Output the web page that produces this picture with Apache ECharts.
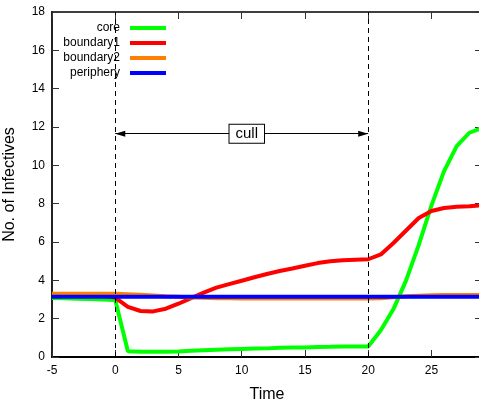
<!DOCTYPE html>
<html><head><meta charset="utf-8">
<script src="https://cdn.jsdelivr.net/npm/echarts@6/dist/echarts.min.js"></script>
<style>html,body{margin:0;padding:0;background:#fff}#c{width:479px;height:406px}</style>
</head><body><div id="c"></div>
<script>
const time = [-5,-4,-3,-2,-1,0,1,2,3,4,5,6,7,8,9,10,11,12,13,14,15,16,17,18,19,20,21,22,23,24,25,26,27,28,29];
const core = [3.08,3.06,3.04,3.02,3.0,2.98,0.3,0.28,0.27,0.27,0.29,0.32,0.35,0.38,0.40,0.42,0.44,0.45,0.48,0.50,0.50,0.52,0.53,0.55,0.55,0.55,1.4,2.5,4.0,5.85,7.9,9.7,11.0,11.7,11.95];
const boundary1 = [3.2,3.2,3.2,3.2,3.2,3.1,2.62,2.4,2.38,2.52,2.78,3.07,3.36,3.62,3.8,3.98,4.16,4.33,4.49,4.62,4.76,4.9,5.0,5.05,5.08,5.1,5.35,5.95,6.6,7.25,7.62,7.77,7.84,7.86,7.92];
const boundary2 = [3.3,3.3,3.3,3.3,3.3,3.3,3.28,3.25,3.21,3.17,3.14,3.11,3.09,3.07,3.06,3.05,3.05,3.05,3.05,3.05,3.05,3.05,3.05,3.05,3.05,3.05,3.07,3.12,3.17,3.2,3.22,3.24,3.24,3.24,3.24];
const periphery = [3.15,3.15,3.15,3.14,3.14,3.14,3.14,3.14,3.14,3.14,3.14,3.14,3.14,3.14,3.14,3.14,3.14,3.14,3.14,3.14,3.14,3.14,3.14,3.14,3.14,3.14,3.14,3.14,3.14,3.14,3.14,3.14,3.14,3.14,3.14];
const seriesNames = ['core','boundary1','boundary2','periphery'];
const seriesColors = ['#00ff00','#ff0000','#ff8000','#0000ff'];
const seriesData = [core, boundary1, boundary2, periphery];
const xTicks = [-5,0,5,10,15,20,25];
const yTicks = [0,2,4,6,8,10,12,14,16,18];
const cullStart = 0, cullEnd = 20, arrowY = 11.65, cullLabel = 'cull';

const FONT = 'Liberation Sans';
const chart = echarts.init(document.getElementById('c'), null, {renderer:'canvas'});
const axisLine = {show:true, onZero:false, lineStyle:{color:'#000', width:1.5}};
const axisTick = {show:true, inside:true, length:7, lineStyle:{color:'#333', width:1}};
const option = {
  animation:false,
  backgroundColor:'#fff',
  grid:{left:52, right:-3, top:12, bottom:49, containLabel:false, outerBoundsMode:'none'},
  legend: seriesNames.map((n,i)=>({
    data:[n], orient:'vertical', align:'right', right:313, top:22+15*i, padding:0,
    icon:'rect', itemWidth:36, itemHeight:4, itemGap:0, selectedMode:false,
    textStyle:{fontFamily:FONT, fontSize:12, color:'#000', padding:[0,5,0,0]}
  })),
  xAxis:[
    {type:'value', min:-5, max:29, interval:5, position:'bottom',
     name:'Time', nameLocation:'middle', nameGap:30,
     nameTextStyle:{fontFamily:FONT, fontSize:16, color:'#000'},
     axisLine:Object.assign({}, axisLine, {lineStyle:{color:'#000', width:2}}), axisTick:axisTick,
     axisLabel:{fontFamily:FONT, fontSize:12, color:'#000', margin:8,
       formatter:v=> xTicks.indexOf(v)>=0 ? String(v) : ''},
     splitLine:{show:false}},
    {type:'value', min:-5, max:29, interval:5, position:'top',
     axisLine:axisLine, axisTick:axisTick, axisLabel:{show:false}, splitLine:{show:false}}
  ],
  yAxis:[
    {type:'value', min:0, max:18, interval:2, position:'left',
     name:'No. of Infectives', nameLocation:'middle', nameGap:34, nameRotate:90,
     nameTextStyle:{fontFamily:FONT, fontSize:16, color:'#000'},
     axisLine:Object.assign({}, axisLine, {lineStyle:{color:'#222', width:2}}), axisTick:axisTick,
     axisLabel:{fontFamily:FONT, fontSize:12, color:'#000', margin:7,
       formatter:v=> yTicks.indexOf(v)>=0 ? String(v) : ''},
     splitLine:{show:false}},
    {type:'value', min:0, max:18, interval:2, position:'right',
     axisLine:axisLine, axisTick:axisTick, axisLabel:{show:false}, splitLine:{show:false}}
  ],
  series: seriesNames.map((n,i)=>({
    name:n, type:'line', xAxisIndex:0, yAxisIndex:0,
    data: time.map((t,j)=>[t, seriesData[i][j]]),
    showSymbol:false, symbol:'none', smooth:false,
    lineStyle:{width:4, color:seriesColors[i]}, itemStyle:{color:seriesColors[i]},
    z:3
  })).concat([
    {type:'line', data:[], xAxisIndex:0, yAxisIndex:0, z:4,
     markLine:{silent:true, symbol:['none','none'], label:{show:false},
       lineStyle:{color:'#000', width:1, type:[5,4]},
       data:[{xAxis:cullStart},{xAxis:cullEnd}]}},
    {type:'line', data:[], xAxisIndex:0, yAxisIndex:0, z:5,
     markLine:{silent:true, symbol:['triangle','triangle'], symbolSize:[6,10], symbolOffset:[[0,5],[0,5]],
       label:{show:false},
       lineStyle:{color:'#000', width:1, type:'solid'},
       data:[[{coord:[cullStart,arrowY]},{coord:[cullEnd,arrowY]}]]},
     markPoint:{silent:true, symbol:'rect', symbolSize:0,
       label:{show:true, position:'inside', formatter:cullLabel, fontFamily:FONT, fontSize:15, color:'#000',
         backgroundColor:'#fff', borderColor:'#000', borderWidth:1, padding:[2,6,1,6]},
       data:[{coord:[10.4,arrowY]}]}}
  ])
};
chart.setOption(option);
</script>
</body></html>
